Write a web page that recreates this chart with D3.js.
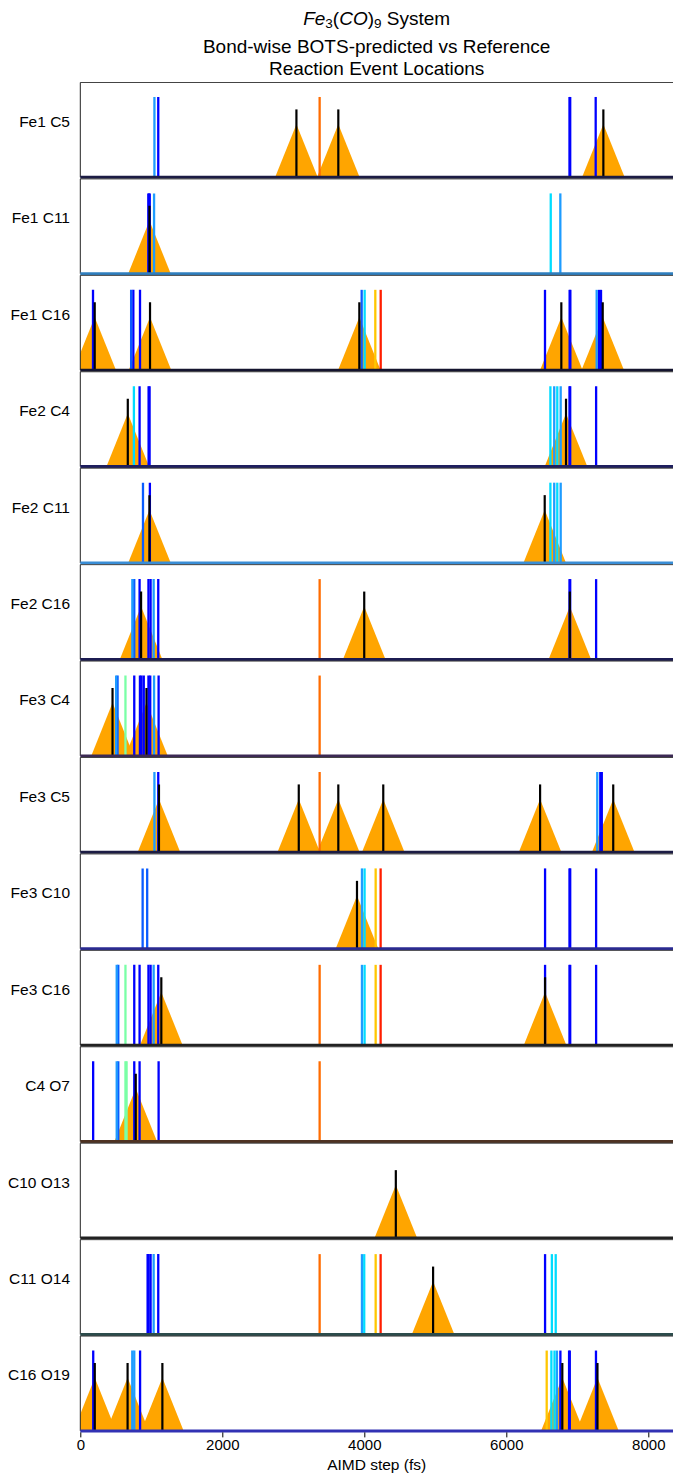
<!DOCTYPE html>
<html>
<head>
<meta charset="utf-8">
<script src="https://cdn.jsdelivr.net/npm/d3@7"></script>
<style>
  body { margin: 0; background: #fff; }
  svg { display: block; }
  text { font-family: "Liberation Sans", Arial, sans-serif; fill: #000; }
</style>
</head>
<body>
<svg id="chart" width="673" height="1481"></svg>
<script>
// Bonds shown, one panel each (top to bottom)
const bonds = ["Fe1 C5", "Fe1 C11", "Fe1 C16", "Fe2 C4", "Fe2 C11", "Fe2 C16", "Fe3 C4",
               "Fe3 C5", "Fe3 C10", "Fe3 C16", "C4 O7", "C10 O13", "C11 O14", "C16 O19"];

// Reference reaction events (fs), per bond
const refEvents = [
  [3044, 3634, 7367],
  [974],
  [203, 982, 3930, 6775, 7358],
  [669, 6841],
  [974, 6541],
  [856, 3999, 6895],
  [454, 932],
  [1108, 3077, 3634, 4267, 6476, 7506],
  [3897],
  [1141, 6546],
  [781],
  [4444],
  [4969],
  [204, 666, 1156, 6789, 7284]
];

// BOTS-predicted events (fs), per bond, one list per predictor
const predBlue = [
  [1098, 6890, 6900, 7259],
  [958, 968, 978],
  [179, 747, 841, 6545, 6892, 6902, 7306, 7334],
  [835, 962, 976, 6890, 6900, 7265],
  [980],
  [835, 960, 990, 1098, 6890, 6900, 7265],
  [760, 840, 862, 894, 960, 985, 1103],
  [1098, 7324, 7345],
  [6546, 6890, 6900, 7265],
  [760, 835, 960, 990, 1098, 6546, 6890, 6900, 7265],
  [181, 760, 835, 1103],
  [],
  [948, 962, 990, 1098, 6546],
  [182, 842, 6762, 6884, 6894, 7263]
];
const predMedBlue = [[], [], [716, 3963], [], [883], [760], [525], [], [878, 942], [535], [535], [], [], []];
const predLightBlue = [
  [1044], [1039, 6761], [7273], [6675, 6766], [6675, 6766], [733, 1033], [505, 1039],
  [1044, 7281], [3967], [513, 1033, 3967], [513], [], [1033, 3967], [732, 760, 6713]
];
const predCyan = [[], [6626], [4005], [755, 6621, 6718], [6621, 6718], [], [], [], [4004], [4004], [], [], [3999, 6642, 6696], [6635, 6679]];
const predAqua = [[], [], [], [], [], [], [636], [], [], [636], [636, 652], [], [], []];
const predGold = [[], [], [4155], [], [], [], [], [], [4160], [4160], [], [], [4160], [6569]];
const predOrange = [[3371], [], [], [], [], [3371], [3371], [3371], [], [3371], [3371], [], [3371], []];
const predRed = [[], [], [4231], [], [], [], [], [], [4230], [4230], [], [], [4230], []];

const xTicks = [0, 2000, 4000, 6000, 8000];

// Marker heights on the panel's y scale
const predHeight = 1.0, refHeight = 0.845, peakHeight = 0.66, yMax = 1.18;
const halfWidth = 300; // fs, half base of each reference triangle

// Styling
const predictors = [
  { events: predBlue, color: "#0000ff" },
  { events: predMedBlue, color: "#0a5cff" },
  { events: predLightBlue, color: "#1e9cff" },
  { events: predCyan, color: "#00dcff" },
  { events: predAqua, color: "#7affa6" },
  { events: predGold, color: "#ffc600" },
  { events: predOrange, color: "#ff6c00" },
  { events: predRed, color: "#ff1e00" }
];
const baselineColors = ["#1c1c44", "#2f7fbf", "#14142e", "#1e1e5e", "#3a8ed6", "#1c1c52", "#3c2a54",
                        "#1c1c44", "#2a2a92", "#222222", "#4e3222", "#222222", "#2c4c4c", "#3232b4"];

const svg = d3.select("#chart");
const left = 80.3, right = 673;
const x = d3.scaleLinear().domain([0, (right - left) / 0.0710]).range([left, right]);

const top0 = 82.5, step = 96.43, panelH = 94.8;

svg.append("defs").append("clipPath").attr("id", "clip")
  .append("rect").attr("x", left).attr("y", 0).attr("width", right - left).attr("height", 1481);

bonds.forEach((bond, i) => {
  const top = top0 + i * step, bottom = top + panelH;
  const y = d3.scaleLinear().domain([0, yMax]).range([bottom, top]);
  const g = svg.append("g");
  const plot = g.append("g").attr("clip-path", "url(#clip)");

  // reference triangles
  const tri = d3.line().x(d => x(d[0])).y(d => y(d[1]));
  refEvents[i].forEach(r => {
    plot.append("path")
      .attr("d", tri([[r - halfWidth, 0], [r, peakHeight], [r + halfWidth, 0]]) + "Z")
      .attr("fill", "#ffa500");
  });

  // predicted events
  predictors.forEach(p => {
    p.events[i].forEach(v => {
      plot.append("line")
        .attr("x1", x(v)).attr("x2", x(v))
        .attr("y1", y(0)).attr("y2", y(predHeight))
        .attr("stroke", p.color).attr("stroke-width", 2.3);
    });
  });

  // reference events
  refEvents[i].forEach(r => {
    plot.append("line")
      .attr("x1", x(r)).attr("x2", x(r))
      .attr("y1", y(0)).attr("y2", y(refHeight))
      .attr("stroke", "#000").attr("stroke-width", 2.2);
  });

  // frame
  g.append("line").attr("x1", left).attr("x2", right).attr("y1", top).attr("y2", top)
    .attr("stroke", "#444").attr("stroke-width", 1);
  g.append("line").attr("x1", left).attr("x2", left).attr("y1", top).attr("y2", bottom)
    .attr("stroke", "#222").attr("stroke-width", 1);
  // zero line
  g.append("line").attr("x1", left).attr("x2", right).attr("y1", y(0)).attr("y2", y(0))
    .attr("stroke", baselineColors[i]).attr("stroke-width", 3);

  g.append("text")
    .attr("x", 70).attr("y", bottom - 0.59 * panelH)
    .attr("text-anchor", "end").attr("dominant-baseline", "central")
    .style("font-size", "15.5px")
    .text(bond);

  if (i === bonds.length - 1) {
    const axis = d3.axisBottom(x).tickValues(xTicks).tickSize(5).tickPadding(2).tickFormat(d3.format("d"));
    const ax = svg.append("g").attr("transform", `translate(0,${bottom + 1.5})`).call(axis);
    ax.select(".domain").remove();
    ax.selectAll("text").style("font-size", "15px").style("font-family", '"Liberation Sans", Arial, sans-serif');
    ax.selectAll("line").attr("stroke", "#000").attr("stroke-width", 1);
    svg.append("text").attr("x", (left + right) / 2).attr("y", 1470)
      .attr("text-anchor", "middle").style("font-size", "15.5px").text("AIMD step (fs)");
  }
});

// Title
const cx = (left + right) / 2;
const t1 = svg.append("text").attr("x", cx).attr("y", 25).attr("text-anchor", "middle").style("font-size", "19px");
t1.append("tspan").style("font-style", "italic").text("Fe");
t1.append("tspan").attr("baseline-shift", "-22%").style("font-size", "13.5px").text("3");
t1.append("tspan").text("(");
t1.append("tspan").style("font-style", "italic").text("CO");
t1.append("tspan").text(")");
t1.append("tspan").attr("baseline-shift", "-22%").style("font-size", "13.5px").text("9");
t1.append("tspan").text(" System");
svg.append("text").attr("x", cx).attr("y", 53).attr("text-anchor", "middle").style("font-size", "19px")
  .text("Bond-wise BOTS-predicted vs Reference");
svg.append("text").attr("x", cx).attr("y", 75).attr("text-anchor", "middle").style("font-size", "19px")
  .text("Reaction Event Locations");
</script>
</body>
</html>
